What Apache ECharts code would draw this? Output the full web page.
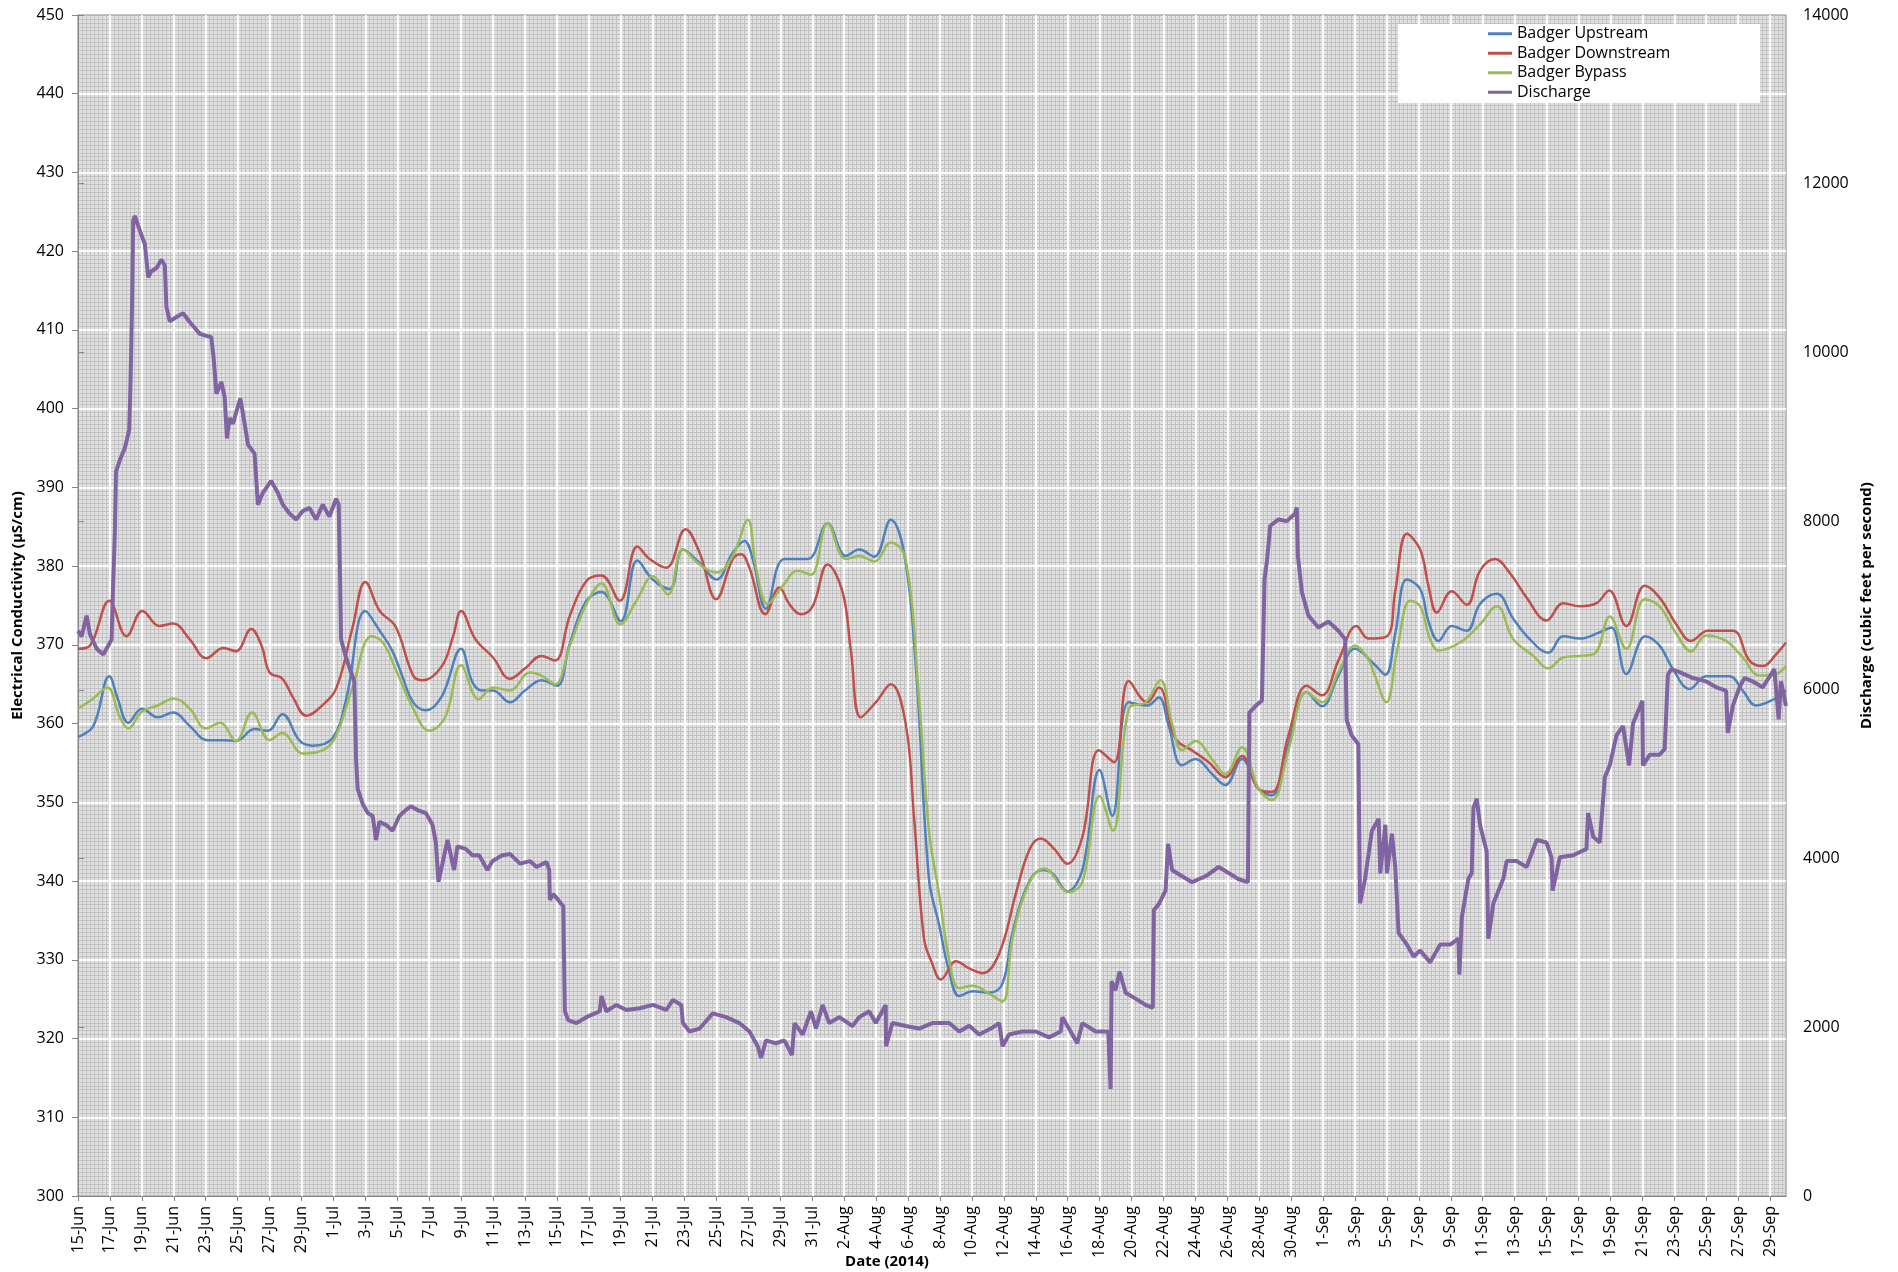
<!DOCTYPE html>
<html>
<head>
<meta charset="utf-8">
<script src="https://cdn.jsdelivr.net/npm/echarts@6/dist/echarts.min.js"></script>
<style>
html, body { margin: 0; padding: 0; background: #fff; }
#chart { width: 1898px; height: 1272px; }
</style>
</head>
<body>
<div id="chart"></div>
<script>
// x values are days after 15-Jun-2014
const seriesNames = ['Badger Upstream', 'Badger Downstream', 'Badger Bypass', 'Discharge'];
const seriesColors = ['#4F81BD', '#C0504D', '#9BBB59', '#8064A2'];
const monthNames = ['Jan', 'Feb', 'Mar', 'Apr', 'May', 'Jun', 'Jul', 'Aug', 'Sep', 'Oct', 'Nov', 'Dec'];

const upstream = [
  [0, 358.3], [0.96, 359.7], [1.96, 366.0], [2.5, 363.1], [3.15, 360.1], [4, 361.9], [5, 360.8], [5.96, 361.4],
  [7, 359.7], [8.1, 357.9], [9.1, 357.9], [9.9, 357.8], [11.06, 359.3], [11.9, 359.1], [12.8, 361.2], [13.9, 357.8],
  [14.7, 357.2], [15.96, 358.2], [16.8, 363.1], [18, 374.3], [18.9, 371.8], [19.7, 369.2], [20.3, 366.1], [21, 362.7],
  [21.8, 361.7], [22.8, 363.5], [24, 369.5], [24.7, 365.3], [25.3, 364.2], [26, 364.2], [27.06, 362.7], [28, 364.2],
  [29.04, 365.5], [30, 364.8], [30.8, 370.1], [31.85, 375.6], [32.8, 376.7], [34, 373.0], [35.04, 380.7], [36, 378.3],
  [37.06, 377.1], [37.9, 382.1], [38.94, 380.4], [40, 378.3], [41.02, 381.7], [41.75, 383.2], [42.27, 380.9], [43.1, 374.6],
  [44.25, 380.9], [45.7, 380.9], [46.96, 385.4], [48.1, 381.3], [48.94, 382.1], [49.88, 381.2], [50.92, 385.9], [51.75, 381.7],
  [52.5, 366.9], [53.31, 340.3], [53.94, 334.5], [54.58, 328.5], [55.21, 325.4], [56.04, 326.0], [57.08, 325.8], [57.92, 327.0],
  [58.54, 333.4], [59.58, 339.9], [60.42, 341.4], [61.04, 341.0], [61.98, 338.7], [62.92, 341.4], [64, 354.1], [64.79, 348.3],
  [65.83, 362.7], [66.98, 362.3], [67.71, 363.3], [68.33, 359.7], [69.17, 354.7], [70, 355.5], [71.04, 353.6], [71.88, 352.2],
  [72.92, 355.5], [73.96, 351.7], [74.79, 350.9], [75.83, 357.4], [76.98, 364.0], [77.92, 362.2], [78.96, 366.1], [80, 369.5],
  [81.17, 367.6], [81.9, 366.2], [82.52, 371.4], [83.25, 378.3], [84.08, 377.1], [84.6, 373.0], [85.23, 370.5], [86.06, 372.4],
  [87, 371.8], [87.83, 375.2], [88.88, 376.5], [89.92, 373.3], [90.96, 370.7], [92.1, 369.0], [93.04, 371.1], [94.08, 370.8],
  [95.33, 371.6], [96.06, 372.2], [97, 366.3], [98.19, 371.1], [99.08, 369.9], [99.92, 366.9], [100.96, 364.4], [102, 366.0],
  [103.46, 366.0], [104.29, 364.2], [105.13, 362.3], [106.17, 363.0], [107, 364.2]
];

const downstream = [
  [0, 369.5], [0.75, 369.9], [1.96, 375.6], [3.04, 371.1], [4.04, 374.3], [5.1, 372.4], [5.96, 372.7], [7, 370.7],
  [8.04, 368.3], [9.1, 369.6], [9.9, 369.2], [10.85, 372.0], [11.5, 369.9], [12, 366.5], [12.8, 365.7], [13.5, 363.2],
  [14.3, 361.0], [15.3, 362.3], [16.2, 364.6], [17.2, 372.2], [18, 378.0], [18.9, 374.3], [19.9, 372.3], [21, 366.1],
  [21.6, 365.5], [22.8, 367.3], [23.5, 371.1], [24, 374.3], [24.9, 370.7], [26, 368.4], [27.06, 365.7], [28, 367.0],
  [29.04, 368.6], [29.88, 368.0], [30.81, 373.7], [31.85, 378.1], [32.79, 378.8], [33.94, 375.6], [35.04, 382.5], [35.81, 380.9],
  [36.85, 379.8], [38.06, 384.7], [38.94, 381.7], [39.98, 375.8], [41.02, 380.9], [41.54, 381.5], [42.06, 379.8], [43.06, 373.9],
  [43.94, 377.3], [44.56, 375.2], [45.29, 373.9], [46.02, 374.9], [46.96, 380.2], [47.9, 376.7], [48.42, 369.2], [49.04, 360.8],
  [49.98, 362.7], [50.92, 365.0], [51.85, 360.0], [52.38, 347.9], [53, 332.7], [53.5, 329.6], [54.06, 327.5], [55, 329.8],
  [55.83, 328.9], [56.67, 328.3], [57.71, 330.8], [58.79, 338.7], [59.63, 344.1], [60.31, 345.4], [61.15, 344.1], [61.98, 342.2],
  [62.92, 345.6], [63.96, 356.6], [64.9, 355.1], [65.83, 365.4], [66.98, 362.7], [67.71, 364.6], [68.75, 358.1], [69.79, 356.6],
  [70.83, 355.1], [71.88, 353.2], [72.92, 355.9], [73.96, 351.7], [74.79, 351.3], [75.83, 358.5], [76.98, 364.8], [77.92, 363.6],
  [78.96, 368.0], [80.1, 372.4], [80.83, 370.8], [82, 371.1], [82.52, 376.8], [83.25, 384.1], [84.08, 382.1], [84.6, 377.5],
  [85.13, 374.1], [86.06, 376.8], [87, 375.1], [87.83, 379.4], [88.77, 380.9], [89.71, 379.1], [90.75, 376.0], [92, 373.1],
  [93.04, 375.3], [94.08, 374.9], [95.13, 375.3], [95.92, 376.9], [97, 372.4], [98.15, 377.5], [99.08, 376.0], [100.13, 372.6],
  [101.06, 370.5], [102.1, 371.8], [103.67, 371.8], [104.71, 368.0], [105.54, 367.3], [106.38, 368.8], [107, 370.3]
];

const bypass = [
  [0, 361.9], [0.96, 363.2], [1.83, 364.6], [2.63, 360.8], [3.15, 359.4], [4, 361.5], [5, 362.3], [6, 363.2],
  [7, 361.9], [8, 359.4], [8.9, 360.1], [9.9, 357.8], [10.9, 361.4], [12, 357.9], [12.8, 358.8], [14.1, 356.2],
  [15.5, 356.8], [16.2, 358.6], [17.2, 364.6], [18.4, 371.1], [19.1, 370.3], [19.9, 366.9], [21, 361.9], [22, 359.1],
  [23, 360.8], [24, 367.4], [25.1, 363.1], [26, 364.6], [27.06, 364.2], [28.31, 366.5], [29.04, 366.1], [29.88, 365.0],
  [30.81, 369.9], [31.85, 375.2], [32.79, 377.8], [33.98, 372.6], [34.98, 375.6], [36.02, 378.7], [36.96, 376.4], [37.9, 382.1],
  [38.94, 380.2], [39.98, 379.2], [41.02, 381.3], [41.96, 385.9], [42.48, 379.8], [43.21, 375.2], [44.15, 377.5], [45.08, 379.4],
  [45.92, 378.9], [46.96, 385.4], [48.1, 380.9], [48.94, 381.3], [49.88, 380.6], [50.92, 383.0], [51.85, 380.9], [52.69, 363.1],
  [53.31, 346.4], [53.94, 338.4], [54.58, 330.0], [55.21, 326.4], [56.04, 326.7], [57.08, 325.7], [57.92, 324.7], [58.54, 332.7],
  [59.58, 339.7], [60.52, 341.6], [62.08, 338.6], [62.92, 339.9], [64, 350.8], [64.83, 346.4], [65.83, 361.9], [66.88, 362.7],
  [67.81, 365.5], [68.54, 360.0], [69.17, 356.6], [70, 357.8], [71.04, 355.5], [71.88, 353.6], [72.92, 357.0], [73.96, 351.7],
  [74.79, 350.3], [75.83, 356.6], [76.98, 364.0], [77.92, 362.7], [78.96, 366.5], [80, 369.9], [80.83, 368.2], [81.17, 366.5],
  [81.96, 362.7], [82.63, 369.2], [83.46, 375.6], [84.08, 374.9], [84.71, 370.7], [85.23, 369.3], [86.58, 370.3], [87.83, 372.6],
  [88.88, 374.9], [89.92, 370.7], [91.17, 368.6], [92.1, 367.0], [93.04, 368.4], [94.08, 368.6], [95.02, 368.9], [95.96, 373.6],
  [97, 369.5], [98.15, 375.8], [99.08, 374.9], [100.13, 371.4], [101.06, 369.2], [102, 371.2], [103.25, 370.5], [104.29, 368.4],
  [105.33, 366.1], [106.38, 366.3], [107, 367.3]
];

const discharge = [
  [0, 6700], [0.23, 6634], [0.54, 6880], [0.75, 6660], [1.17, 6487], [1.58, 6420], [1.9, 6525], [2.1, 6596],
  [2.17, 7056], [2.31, 7877], [2.38, 8587], [2.63, 8727], [2.94, 8870], [3.21, 9083], [3.29, 9650], [3.38, 10500],
  [3.46, 11563], [3.56, 11620], [3.77, 11500], [3.98, 11390], [4.19, 11280], [4.4, 10890], [4.6, 10963], [4.92, 11000],
  [5.23, 11100], [5.44, 11030], [5.54, 10540], [5.75, 10370], [6.17, 10420], [6.58, 10465], [7, 10360], [7.63, 10220],
  [8.35, 10180], [8.5, 9930], [8.67, 9510], [8.98, 9650], [9.19, 9470], [9.33, 8980], [9.5, 9224], [9.71, 9155],
  [9.92, 9296], [10.17, 9455], [10.44, 9155], [10.65, 8905], [11.06, 8800], [11.27, 8196], [11.58, 8336], [12.1, 8477],
  [12.52, 8336], [12.83, 8196], [13.25, 8090], [13.67, 8020], [14.08, 8120], [14.5, 8157], [14.92, 8020], [15.33, 8196],
  [15.75, 8055], [16.17, 8265], [16.33, 8196], [16.42, 7310], [16.48, 6600], [16.79, 6385], [17.1, 6210], [17.31, 6100],
  [17.42, 5180], [17.52, 4826], [17.83, 4650], [18.15, 4540], [18.46, 4505], [18.67, 4220], [18.88, 4435], [19.29, 4400],
  [19.71, 4330], [20.13, 4505], [20.54, 4575], [20.85, 4620], [21.27, 4575], [21.79, 4540], [22.21, 4400], [22.42, 4190],
  [22.58, 3725], [22.83, 3940], [23.15, 4220], [23.56, 3865], [23.77, 4145], [24.29, 4115], [24.71, 4040], [25.13, 4040],
  [25.65, 3865], [25.96, 3970], [26.58, 4040], [27.06, 4055], [27.69, 3940], [28.31, 3970], [28.73, 3900], [29.35, 3960],
  [29.52, 3865], [29.56, 3510], [29.77, 3580], [30.08, 3510], [30.4, 3435], [30.5, 2190], [30.71, 2085], [31.23, 2050],
  [31.85, 2120], [32.69, 2190], [32.79, 2370], [33.1, 2190], [33.73, 2265], [34.35, 2205], [35.19, 2225], [36.02, 2265],
  [36.85, 2205], [37.27, 2325], [37.79, 2265], [37.9, 2050], [38.31, 1950], [38.94, 1985], [39.77, 2165], [40.6, 2120],
  [41.44, 2050], [42.06, 1950], [42.58, 1775], [42.79, 1635], [43.1, 1845], [43.73, 1810], [44.25, 1845], [44.73, 1670],
  [44.88, 2050], [45.4, 1915], [45.92, 2190], [46.23, 1985], [46.65, 2265], [47.06, 2050], [47.69, 2120], [48.52, 2015],
  [48.94, 2120], [49.56, 2190], [49.98, 2050], [50.6, 2265], [50.62, 1775], [51.02, 2050], [51.85, 2015], [52.69, 1985],
  [53.52, 2050], [54.58, 2050], [55.21, 1950], [55.83, 2017], [56.46, 1915], [57.19, 1985], [57.71, 2050], [57.92, 1775],
  [58.33, 1915], [59.17, 1950], [60, 1950], [60.83, 1880], [61.56, 1950], [61.67, 2120], [62.08, 1985], [62.6, 1810],
  [62.92, 2050], [63.75, 1950], [64.54, 1950], [64.69, 1270], [64.75, 2545], [65, 2440], [65.25, 2660], [65.63, 2410],
  [66.25, 2340], [66.88, 2265], [67.33, 2230], [67.4, 3390], [67.71, 3460], [68.13, 3620], [68.29, 4175], [68.54, 3865],
  [69.17, 3790], [69.79, 3720], [70.63, 3790], [71.46, 3900], [72.08, 3830], [72.71, 3755], [73.29, 3720], [73.38, 5730],
  [73.75, 5805], [74.17, 5875], [74.33, 7310], [74.48, 7520], [74.69, 7945], [75.21, 8020], [75.73, 8000], [76.25, 8090],
  [76.35, 8160], [76.42, 7590], [76.67, 7160], [77.08, 6880], [77.71, 6740], [78.33, 6810], [78.96, 6700], [79.38, 6600],
  [79.48, 5640], [79.79, 5460], [80.21, 5355], [80.31, 3470], [80.63, 3760], [81.06, 4330], [81.48, 4470], [81.58, 3825],
  [81.9, 4400], [82, 3825], [82.31, 4295], [82.52, 3900], [82.73, 3120], [83.25, 2980], [83.67, 2840], [84.08, 2910],
  [84.71, 2770], [85.33, 2980], [85.96, 2980], [86.48, 3050], [86.54, 2625], [86.69, 3300], [87.1, 3760], [87.31, 3825],
  [87.42, 4600], [87.63, 4710], [87.83, 4400], [88.25, 4080], [88.35, 3050], [88.67, 3470], [89.29, 3760], [89.5, 3970],
  [90.13, 3970], [90.75, 3900], [91.38, 4220], [92, 4190], [92.31, 4015], [92.38, 3620], [92.83, 4015], [93.67, 4040],
  [94.5, 4115], [94.6, 4540], [94.92, 4260], [95.33, 4190], [95.65, 4965], [95.96, 5105], [96.38, 5460], [96.79, 5570],
  [97.17, 5105], [97.42, 5600], [98, 5870], [98.04, 5105], [98.46, 5230], [99.08, 5230], [99.4, 5300], [99.6, 6180],
  [99.81, 6245], [100.33, 6210], [101.17, 6140], [102, 6100], [102.63, 6030], [103.25, 5990], [103.35, 5490], [103.67, 5810],
  [104.08, 6030], [104.4, 6140], [104.92, 6100], [105.54, 6030], [106.27, 6245], [106.54, 5650], [106.69, 6100], [107, 5810]
];

const FONT = 'Open Sans';

function dayLabel(v) {
  if (v % 2 !== 0) return '';
  const d = new Date(2014, 5, 15 + v);
  return d.getDate() + '-' + monthNames[d.getMonth()];
}

const chart = echarts.init(document.getElementById('chart'));

const ecData = [upstream, downstream, bypass];

chart.setOption({
  animation: false,
  backgroundColor: '#fff',
  grid: {
    left: 78, right: 112, top: 15, bottom: 76,
    show: true,
    backgroundColor: '#e1e1e1',
    borderColor: '#868686',
    borderWidth: 1,
    outerBoundsMode: 'none'
  },
  legend: {
    orient: 'vertical',
    left: 1488,
    top: 24,
    padding: 0,
    itemWidth: 24,
    itemHeight: 3,
    itemGap: 0,
    icon: 'rect',
    textStyle: { fontFamily: FONT, fontSize: 16, lineHeight: 19.5, color: '#000' },
    data: seriesNames
  },
  graphic: [
    {
      type: 'rect', x: 1398, y: 24, z: 3,
      shape: { width: 362, height: 79 },
      style: { fill: '#fff' }
    },
    {
      type: 'text', x: 887, y: 1262, z: 3,
      style: {
        text: 'Date (2014)', align: 'center', verticalAlign: 'middle',
        font: 'bold 15px "Open Sans"', fill: '#000'
      }
    }
  ],
  xAxis: [
    {
      type: 'value', min: 0, max: 107, interval: 2, position: 'bottom', z: 1,
      axisLine: { show: true, lineStyle: { color: '#868686', width: 1 } },
      axisTick: { show: true, length: 5, lineStyle: { color: '#868686' } },
      axisLabel: {
        rotate: 90, margin: 10, formatter: dayLabel, showMaxLabel: false,
        fontFamily: FONT, fontSize: 16, color: '#000'
      },
      splitLine: { show: true, showMinLine: false, showMaxLine: false, lineStyle: { color: '#fff', width: 2 } }
    },
    {
      // fine background grid
      type: 'value', min: 0, max: 107, interval: 2, position: 'bottom', z: 0,
      axisLine: { show: false }, axisTick: { show: false }, axisLabel: { show: false },
      splitLine: { show: false },
      minorTick: { show: false, splitNumber: 8 },
      minorSplitLine: { show: true, lineStyle: { color: '#c2c2c2', width: 1 } }
    }
  ],
  yAxis: [
    {
      type: 'value', min: 300, max: 450, interval: 10, position: 'left', z: 1,
      name: 'Electrical Conductivity (µS/cm)', nameLocation: 'middle', nameGap: 52,
      nameTextStyle: { fontFamily: FONT, fontSize: 15, fontWeight: 'bold', color: '#000' },
      axisLine: { show: true, lineStyle: { color: '#868686', width: 1 } },
      axisTick: { show: true, length: 6, lineStyle: { color: '#868686' } },
      axisLabel: { margin: 14, fontFamily: FONT, fontSize: 16, color: '#000' },
      splitLine: { show: true, showMinLine: false, showMaxLine: false, lineStyle: { color: '#fff', width: 2 } }
    },
    {
      type: 'value', min: 0, max: 14000, interval: 2000, position: 'right',
      name: 'Discharge (cubic feet per second)', nameLocation: 'middle', nameGap: 72,
      nameTextStyle: { fontFamily: FONT, fontSize: 15, fontWeight: 'bold', color: '#000' },
      axisLine: { show: true, lineStyle: { color: '#868686', width: 1 } },
      axisTick: { show: true, length: 6, lineStyle: { color: '#868686' } },
      axisLabel: { margin: 17, fontFamily: FONT, fontSize: 16, color: '#000', formatter: v => String(v) },
      splitLine: { show: false }
    },
    {
      type: 'value', min: 300, max: 450, interval: 10, position: 'left', z: 0,
      axisLine: { show: false }, axisTick: { show: false }, axisLabel: { show: false },
      splitLine: { show: false },
      minorTick: { show: false, splitNumber: 20 },
      minorSplitLine: { show: true, lineStyle: { color: '#c2c2c2', width: 1 } }
    }
  ],
  series: seriesNames.map((name, i) => ({
    name: name,
    type: 'line',
    xAxisIndex: 0,
    yAxisIndex: i === 3 ? 1 : 0,
    data: i === 3 ? discharge : ecData[i],
    smooth: i === 3 ? false : 0.4,
    symbol: 'none',
    z: 2,
    lineStyle: { color: seriesColors[i], width: i === 3 ? 4 : 2.5 },
    itemStyle: { color: seriesColors[i] }
  }))
});
</script>
</body>
</html>
